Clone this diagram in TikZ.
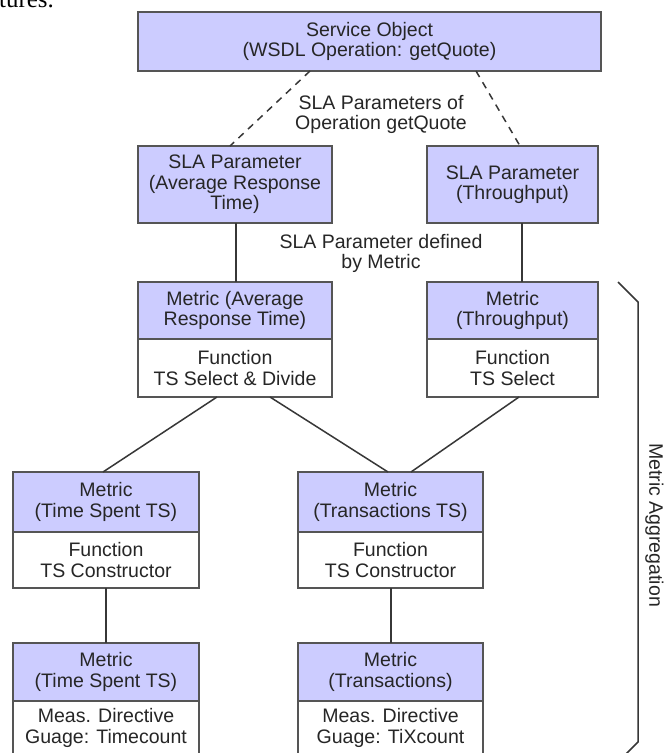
\documentclass[tikz,border=0pt]{standalone}
\usepackage{fontspec}
\setmainfont{Liberation Sans}
\newfontfamily\serifpart{Liberation Serif}
\usetikzlibrary{positioning,calc}
\definecolor{lav}{RGB}{204,204,255}
\definecolor{boxline}{RGB}{85,85,85}
\definecolor{conn}{RGB}{55,55,55}
\tikzset{
  basebox/.style={draw=boxline, line width=1.8bp, outer sep=0pt, inner sep=0pt,
    align=center, font=\fontsize{19.6}{20.5}\selectfont, text=black!85},
  hdr/.style={basebox, fill=lav},
  bodybox/.style={basebox, fill=white},
  link/.style={draw=conn, line width=1.5bp},
  dlink/.style={link, dash pattern=on 7bp off 6bp},
  lbl/.style={align=center, inner sep=0pt, font=\fontsize{19.6}{20.5}\selectfont, text=black!85}
}
\begin{document}
\begin{tikzpicture}[x=1bp,y=-1bp]
\useasboundingbox (0,0) rectangle (666,753);
\fill[white] (0,0) rectangle (666,753);

\node[anchor=base west, inner sep=0pt, font=\serifpart\fontsize{25}{25}\selectfont] (tures) at (-1,8) {tures.};

% top
\node[hdr, minimum width=463bp, minimum height=59bp] (so) at (369.5,41.5) {Service Object\\(WSDL Operation: getQuote)};
\node[hdr, minimum width=194bp, minimum height=77bp] (slaL) at (235,184.5) {SLA Parameter\\(Average Response\\Time)};
\node[hdr, minimum width=171bp, minimum height=77bp] (slaR) at (512.5,184.5) {SLA Parameter\\(Throughput)};

\node[lbl] (l1) at (381,114.5) {SLA Parameters of\\Operation getQuote};
\node[lbl] (l2) at (381,253.5) {SLA Parameter defined\\by Metric};

% metric row 1
\node[hdr, minimum width=194bp, minimum height=57bp] (avgH) at (235,310.5) {Metric (Average\\Response Time)};
\node[bodybox, minimum width=194bp, minimum height=58bp, below=0pt of avgH] (avgB) {Function\\TS Select \& Divide};
\node[hdr, minimum width=171bp, minimum height=57bp] (thrH) at (512.5,310.5) {Metric\\(Throughput)};
\node[bodybox, minimum width=171bp, minimum height=58bp, below=0pt of thrH] (thrB) {Function\\TS Select};

% metric row 2
\node[hdr, minimum width=186bp, minimum height=60bp] (tsH) at (106,502) {Metric\\(Time Spent TS)};
\node[bodybox, minimum width=186bp, minimum height=56bp, below=0pt of tsH] (tsB) {Function\\TS Constructor};
\node[hdr, minimum width=185bp, minimum height=60bp] (trH) at (390.5,502) {Metric\\(Transactions TS)};
\node[bodybox, minimum width=185bp, minimum height=56bp, below=0pt of trH] (trB) {Function\\TS Constructor};

% metric row 3
\node[hdr, minimum width=186bp, minimum height=58bp] (tcH) at (106,672) {Metric\\(Time Spent TS)};
\node[bodybox, minimum width=186bp, minimum height=74bp, below=0pt of tcH] (tcB) {};
\node[lbl, anchor=center] (tcT) at (106,728) {Meas. Directive\\Guage: Timecount};
\node[hdr, minimum width=185bp, minimum height=58bp] (txH) at (390.5,672) {Metric\\(Transactions)};
\node[bodybox, minimum width=185bp, minimum height=74bp, below=0pt of txH] (txB) {};
\node[lbl, anchor=center] (txT) at (390.5,728) {Meas. Directive\\Guage: TiXcount};

% connectors
\draw[dlink] ($(so.south west)+(172,0)$) -- ($(slaL.north west)+(92,0)$);
\draw[dlink] ($(so.south west)+(338,0)$) -- ($(slaR.north west)+(93,0)$);
\draw[link] ($(slaL.south west)+(98,0)$) -- ($(avgH.north west)+(98,0)$);
\draw[link] ($(slaR.south west)+(95,0)$) -- ($(thrH.north west)+(95,0)$);
\draw[link] ($(avgB.south west)+(79,0)$) -- ($(tsH.north west)+(90,0)$);
\draw[link] ($(avgB.south west)+(132,0)$) -- ($(trH.north west)+(90,0)$);
\draw[link] ($(thrB.south west)+(92,0)$) -- ($(trH.north west)+(113,0)$);
\draw[link] ($(tsB.south west)+(93,0)$) -- ($(tcH.north west)+(93,0)$);
\draw[link] ($(trB.south west)+(93,0)$) -- ($(txH.north west)+(93,0)$);

% bracket
\coordinate (b1) at (618,282);
\coordinate (b2) at (638,302);
\coordinate (b3) at (638,742);
\coordinate (b4) at (618,762);
\draw[link] (b1) -- (b2) -- (b3) -- (b4);
\node[lbl, rotate=-90] (agg) at (654.5,525) {Metric Aggregation};
\end{tikzpicture}
\end{document}
